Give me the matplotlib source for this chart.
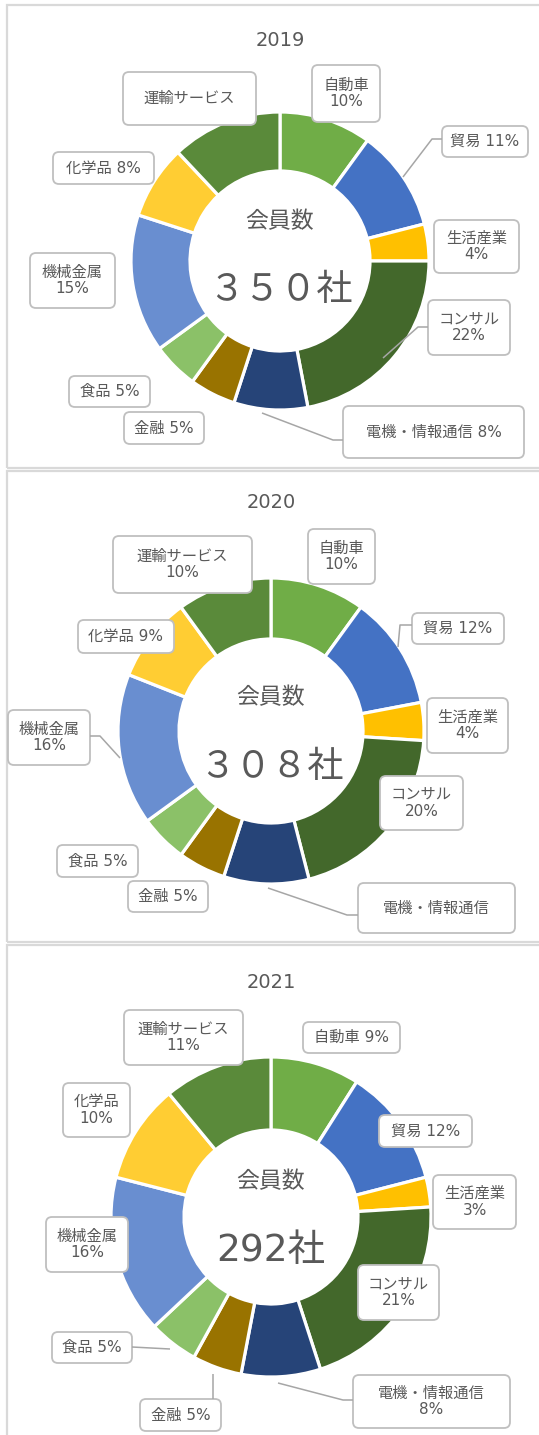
import matplotlib
matplotlib.use("Agg")
import matplotlib.pyplot as plt
from matplotlib.patches import FancyBboxPatch, Rectangle

plt.rcParams['font.family'] = ['Noto Sans CJK JP', 'DejaVu Sans']
LABEL_FONT = ['DejaVu Sans', 'Noto Sans CJK JP']

# ---------------- data ----------------
categories = ['自動車', '貿易', '生活産業', 'コンサル', '電機・情報通信',
              '金融', '食品', '機械金属', '化学品', '運輸サービス']
share_2019 = [10, 11, 4, 22, 8, 5, 5, 15, 8, 12]
share_2020 = [10, 12, 4, 20, 9, 5, 5, 16, 9, 10]
share_2021 = [9, 12, 3, 21, 8, 5, 5, 16, 10, 11]
years = ['2019', '2020', '2021']
totals = ['３５０社', '３０８社', '292社']
center_caption = '会員数'

colors = ['#70AD47', '#4472C4', '#FFC000', '#43682B', '#264478',
          '#997300', '#8BC168', '#698ED0', '#FFCD33', '#5A8A3A']

W, H = 539, 1435
TXT = '#595959'
fig = plt.figure(figsize=(W / 100, H / 100), dpi=100)

def Y(y):
    return H - y

# panel geometry (pixels)
panels = [
    dict(cx=280, cy=261, r=149, ri=90, ty=40, capy=222, numy=290, nfs=26),
    dict(cx=271, cy=731, r=153, ri=92, ty=503, capy=698, numy=767, nfs=26),
    dict(cx=271, cy=1217, r=160, ri=87, ty=982, capy=1182, numy=1251, nfs=27),
]

# label boxes: category index -> (x0, y0, x1, y1, mode)
boxes = [
    {0: (312, 65, 380, 122, 'two'), 1: (442, 126, 528, 157, 'one'),
     2: (434, 220, 519, 273, 'two'), 3: (428, 300, 510, 355, 'two'),
     4: (343, 406, 524, 458, 'one'), 5: (124, 412, 204, 444, 'one'),
     6: (69, 376, 150, 407, 'one'), 7: (30, 253, 115, 308, 'two'),
     8: (53, 152, 154, 184, 'one'), 9: (123, 72, 256, 125, 'name')},
    {0: (308, 529, 375, 584, 'two'), 1: (412, 613, 504, 644, 'one'),
     2: (427, 698, 508, 753, 'two'), 3: (380, 776, 463, 830, 'two'),
     4: (358, 883, 515, 933, 'name'), 5: (128, 881, 208, 912, 'one'),
     6: (57, 845, 138, 877, 'one'), 7: (8, 710, 90, 765, 'two'),
     8: (78, 620, 174, 653, 'one'), 9: (113, 536, 252, 593, 'two')},
    {0: (303, 1022, 400, 1053, 'one'), 1: (379, 1115, 472, 1147, 'one'),
     2: (433, 1175, 516, 1229, 'two'), 3: (358, 1265, 439, 1320, 'two'),
     4: (353, 1375, 510, 1428, 'two'), 5: (140, 1399, 221, 1431, 'one'),
     6: (52, 1332, 132, 1363, 'one'), 7: (46, 1217, 128, 1272, 'two'),
     8: (63, 1083, 130, 1137, 'two'), 9: (124, 1010, 243, 1065, 'two')},
]
leaders = [
    [[(442, 139), (432, 139), (403, 177)],
     [(428, 327), (418, 327), (383, 358)],
     [(343, 440), (333, 440), (262, 413)]],
    [[(412, 625), (400, 625), (398, 647)],
     [(90, 736), (100, 736), (120, 758)],
     [(358, 915), (347, 915), (268, 888)]],
    [[(132, 1347), (170, 1349)],
     [(213, 1399), (213, 1374)],
     [(353, 1400), (343, 1400), (278, 1383)]],
]

shares = [share_2019, share_2020, share_2021]

# donuts
for p, vals in zip(panels, shares):
    cx, cy, r = p['cx'], p['cy'], p['r']
    ax = fig.add_axes([(cx - r) / W, (H - cy - r) / H, 2 * r / W, 2 * r / H])
    ax.pie(vals, colors=colors, startangle=90, counterclock=False, radius=1,
           wedgeprops=dict(width=1 - p['ri'] / r, edgecolor='white', linewidth=2.3))
    ax.set_xlim(-1, 1)
    ax.set_ylim(-1, 1)
    ax.set_aspect('equal')
    ax.axis('off')

# overlay for frames, labels, texts
ov = fig.add_axes([0, 0, 1, 1])
ov.set_xlim(0, W)
ov.set_ylim(0, H)
ov.axis('off')
ov.patch.set_alpha(0)

frames = [(7, 5, 560, 468), (7, 471, 560, 942), (7, 945, 560, 1450)]
for x0, y0, x1, y1 in frames:
    ov.add_patch(Rectangle((x0, Y(y1)), x1 - x0, y1 - y0, fill=False,
                           edgecolor='#D9D9D9', linewidth=1.6))

for i, p in enumerate(panels):
    ov.text(p['cx'], Y(p['ty']), years[i], ha='center', va='center',
            fontsize=14, color=TXT, family=LABEL_FONT)
    ov.text(p['cx'], Y(p['capy']), center_caption, ha='center', va='center',
            fontsize=16.5, color=TXT)
    ov.text(p['cx'], Y(p['numy']), totals[i], ha='center', va='center',
            fontsize=p['nfs'], color=TXT, family=LABEL_FONT)
    for pts in leaders[i]:
        ov.plot([q[0] for q in pts], [Y(q[1]) for q in pts], color='#A6A6A6',
                linewidth=1.1, solid_capstyle='butt')
    for k, (x0, y0, x1, y1, mode) in boxes[i].items():
        ov.add_patch(FancyBboxPatch((x0, Y(y1)), x1 - x0, y1 - y0,
                                    boxstyle='round,pad=0,rounding_size=6',
                                    facecolor='white', edgecolor='#BFBFBF',
                                    linewidth=1.3))
        name = categories[k]
        pct = f'{shares[i][k]}%'
        if mode == 'one':
            s = f'{name} {pct}'
        elif mode == 'two':
            s = f'{name}\n{pct}'
        else:
            s = name
        ov.text((x0 + x1) / 2, Y((y0 + y1) / 2), s, ha='center', va='center',
                fontsize=11, color=TXT, linespacing=1.15, family=LABEL_FONT)

fig.savefig('out.png', dpi=100, facecolor='white')
